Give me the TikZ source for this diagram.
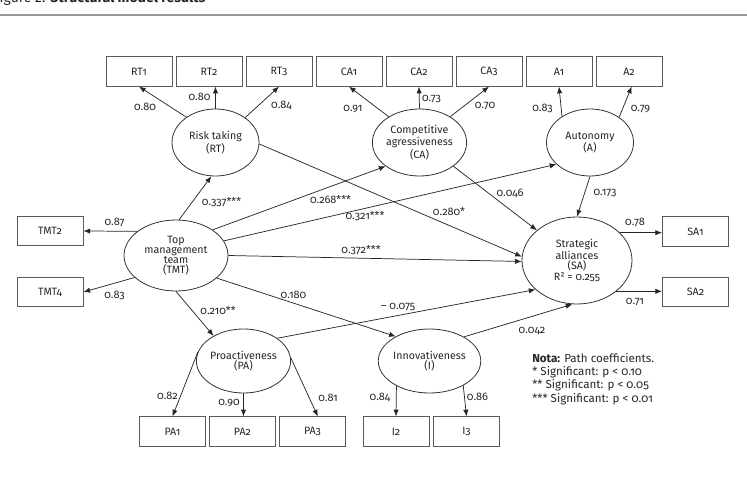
\documentclass[tikz,border=0pt]{standalone}
\usepackage{fontspec}
\setmainfont{Fira Sans}[Numbers=OldStyle]
\usetikzlibrary{arrows.meta,shapes.geometric,calc}
\newcommand\figfont{\fontsize{8}{7.6}\selectfont}
\tikzset{
  box/.style={draw=black!65, rectangle, line width=0.7pt, minimum width=49.5pt, minimum height=22pt, inner sep=0pt, font=\figfont, text=black!85},
  latent/.style={draw=black!80, ellipse, line width=0.6pt, align=center, inner sep=0pt, font=\figfont, text=black!85},
  lbl/.style={anchor=base, inner sep=0pt, font=\fontsize{8.2}{9}\selectfont, text=black!85},
  arr/.style={-{Latex[length=5pt,width=4pt]}, line width=0.55pt, black!85}
}

\begin{document}
\begin{tikzpicture}[x=0.75pt,y=-0.75pt]
\useasboundingbox (0,0) rectangle (747,478);

% heading
\node[anchor=base west, inner sep=0pt, font=\fontsize{10.5}{12}\selectfont, text=black!85] (title) at (-7,3) {Figure 2: \textbf{Structural model results}};
\draw[black!40, line width=1.1pt] (0,15) -- (747,15);

% latent variables
\node[latent, minimum width=65.25pt, minimum height=50.25pt] (RT) at (215.5,142.5) {Risk taking\\(RT)};
\node[latent, minimum width=65.25pt, minimum height=50.25pt] (CA) at (419.5,142.5) {Competitive\\agressiveness\\(CA)};
\node[latent, minimum width=65.25pt, minimum height=50.25pt] (A) at (590,142.5) {Autonomy\\(A)};
\node[latent, minimum width=78pt, minimum height=53.25pt] (TMT) at (176,255.5) {Top\\management\\team\\(TMT)};
\node[latent, minimum width=82.5pt, minimum height=65.25pt] (SA) at (577,260.5) {Strategic\\alliances\\(SA)\\R² = 0.255};
\node[latent, minimum width=65.25pt, minimum height=48pt] (PA) at (243.5,361) {Proactiveness\\(PA)};
\node[latent, minimum width=65.25pt, minimum height=48pt] (I) at (429.5,361) {Innovativeness\\(I)};

% indicators
\node[box] (RT1) at (139,71.5) {RT1};
\node[box] (RT2) at (209,71.5) {RT2};
\node[box] (RT3) at (279,71.5) {RT3};
\node[box] (CA1) at (349,71.5) {CA1};
\node[box] (CA2) at (419,71.5) {CA2};
\node[box] (CA3) at (489,71.5) {CA3};
\node[box] (A1) at (559,71.5) {A1};
\node[box] (A2) at (629,71.5) {A2};
\node[box] (TMT2) at (50,231) {TMT2};
\node[box] (TMT4) at (50,292) {TMT4};
\node[box] (SA1) at (695.5,231.5) {SA1};
\node[box] (SA2) at (695.5,292) {SA2};
\node[box] (PA1) at (172.5,431.5) {PA1};
\node[box] (PA2) at (242.5,431.5) {PA2};
\node[box] (PA3) at (312.5,431.5) {PA3};
\node[box] (I2) at (396,431.5) {I2};
\node[box] (I3) at (466.5,431.5) {I3};

% loadings
\draw[arr] (RT.139) -- (RT1.south);
\draw[arr] (RT.north) -- (RT.north |- RT2.south);
\draw[arr] (RT.40) -- (RT3.south);
\draw[arr] (CA.140) -- (CA1.south);
\draw[arr] (CA.north) -- (CA2.south);
\draw[arr] (CA.40) -- (CA3.south);
\draw[arr] (A.137) -- (A1.south);
\draw[arr] (A.41) -- ([xshift=2pt]A2.south);
\draw[arr] (TMT.148) -- (TMT2.east);
\draw[arr] (TMT.208) -- (TMT4.east);
\draw[arr] (SA.33) -- (SA.33 -| SA1.west);
\draw[arr] (SA.-38) -- (SA.-38 -| SA2.west);
\draw[arr] (PA.169) -- (PA1.north);
\draw[arr] (PA.south) -- (PA.south |- PA2.north);
\draw[arr] (PA.4) -- ([xshift=4pt]PA3.north);
\draw[arr] (I.217) -- (I2.north);
\draw[arr] (I.324) -- (I3.north);

% structural paths
\draw[arr] (TMT.85) -- (RT.263);
\draw[arr] (TMT.35) -- (CA.215);
\draw[arr] (TMT.17) -- (A.213);
\draw[arr] (TMT.east) -- (SA.181);
\draw[arr] (TMT.south) -- (PA.140);
\draw[arr] (TMT.-29) -- (I.144);
\draw[arr] (RT.-2) -- (SA.176);
\draw[arr] (CA.-35) -- (SA.143);
\draw[arr] (A.south) -- (SA.north);
\draw[arr] (PA.34) -- (SA.215);
\draw[arr] (I.35) -- (SA.264);

% coefficients
\node[lbl] (lRT1) at (145,110.5) {0.80};
\node[lbl] (lRT2) at (199.5,101) {0.80};
\node[lbl] (lRT3) at (281.5,109) {0.84};
\node[lbl] (lCA1) at (353,112) {0.91};
\node[lbl] (lCA2) at (431.5,102) {0.73};
\node[lbl] (lCA3) at (485,109) {0.70};
\node[lbl] (lA1) at (542.5,112) {0.83};
\node[lbl] (lA2) at (640.5,112) {0.79};
\node[lbl] (lTMT2) at (114.5,225.5) {0.87};
\node[lbl] (lTMT4) at (114.5,298) {0.83};
\node[lbl] (lSA1) at (635,225.5) {0.78};
\node[lbl] (lSA2) at (635,304.5) {0.71};
\node[lbl] (lPA1) at (167.5,399.5) {0.82};
\node[lbl] (lPA2) at (229,405.5) {0.90};
\node[lbl] (lPA3) at (328,401) {0.81};
\node[lbl] (lI2) at (380,400.5) {0.84};
\node[lbl] (lI3) at (477.5,400) {0.86};

\node[lbl] (lRTt) at (221.5,205.5) {0.337***};
\node[lbl] (lCAt) at (330.5,203.5) {0.268***};
\node[lbl] (lAt) at (365,219.5) {0.321***};
\node[lbl] (lSAt) at (361,253.5) {0.372***};
\node[lbl] (lRTs) at (449,215.5) {0.280*};
\node[lbl] (lCAs) at (510,196) {0.046};
\node[lbl] (lAs) at (605,195.5) {0.173};
\node[lbl] (lPAt) at (218,314) {0.210**};
\node[lbl] (lIt) at (293.5,298) {0.180};
\node[lbl] (lPAs) at (398,309.5) {– 0.075};
\node[lbl] (lIs) at (532,333) {0.042};

% legend
\node[anchor=north west, align=left, inner sep=0pt, font=\fontsize{8.7}{10}\selectfont, text=black!85] (nota) at (532,353) {\textbf{Nota:} Path coefficients.\\* Significant: p < 0.10\\** Significant: p < 0.05\\*** Significant: p < 0.01};
\end{tikzpicture}
\end{document}
